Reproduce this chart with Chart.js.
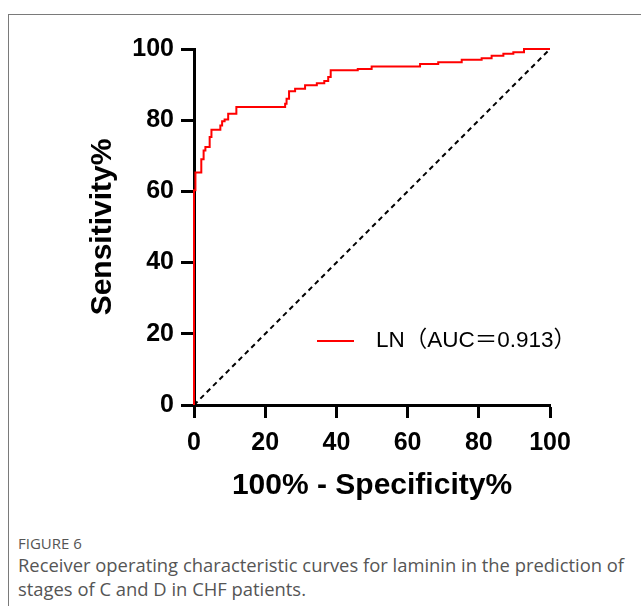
<!DOCTYPE html>
<html>
<head>
<meta charset="utf-8">
<script src="https://cdn.jsdelivr.net/npm/chart.js@4"></script>
<style>
  body { margin: 0; background: #fff; width: 641px; height: 606px; overflow: hidden; position: relative; }
  .frame { position: absolute; left: 8px; top: 14px; width: 700px; height: 700px; border-left: 1px solid #7a7a7a; border-top: 1px solid #7a7a7a; }
  #roc { position: absolute; left: 0; top: 0; }
  .fig { position: absolute; left: 18px; top: 533px; font-family: "Open Sans", sans-serif; font-size: 15px; color: #555; }
  .cap { position: absolute; left: 18px; top: 553px; width: 618px; font-family: "Open Sans", sans-serif; font-size: 18.4px; line-height: 24px; color: #555; }
</style>
</head>
<body>
<div class="frame"></div>
<canvas id="roc" width="641" height="520"></canvas>
<div class="fig">FIGURE 6</div>
<div class="cap">Receiver operating characteristic curves for laminin in the prediction of stages of C and D in CHF patients.</div>
<script>
// ROC points, 100% - specificity vs sensitivity
const fpr = [0, 0, 0.4, 2.05, 2.7, 3.2, 4.4, 4.9, 7.4, 7.9, 8.6, 9.6, 11.9, 25.6, 26.0, 26.7, 28.4, 31.2, 34.5, 36.6, 37.7, 38.4, 46.0, 49.9, 63.5, 68.6, 75.2, 80.8, 83.6, 86.9, 89.7, 92.7, 100];
const tpr = [0, 60.3, 65.3, 69.0, 71.5, 72.5, 75.3, 77.3, 78.5, 79.7, 80.2, 81.8, 83.7, 84.6, 86.0, 88.1, 88.8, 89.8, 90.4, 91.0, 92.1, 94.0, 94.4, 95.1, 95.8, 96.3, 97.0, 97.4, 98.1, 98.7, 99.1, 100, 100];
const refX = [0, 100];
const refY = [0, 100];
const seriesLabel = 'LN（AUC＝0.913）';
const axisTicks = [0, 20, 40, 60, 80, 100];

const tickFont = { family: '"Liberation Sans", Arial, sans-serif', size: 25, weight: 'bold' };
const titleFont = { family: '"Liberation Sans", Arial, sans-serif', size: 30, weight: 'bold' };

// legend drawn inside the plot area
const insideLegend = {
  id: 'insideLegend',
  afterDatasetsDraw(chart) {
    const { ctx, chartArea } = chart;
    const ds = chart.data.datasets[0];
    const y = chartArea.top + 292;
    ctx.save();
    ctx.strokeStyle = ds.borderColor;
    ctx.lineWidth = 2;
    ctx.beginPath();
    ctx.moveTo(chartArea.left + 123, y);
    ctx.lineTo(chartArea.left + 160, y);
    ctx.stroke();
    ctx.fillStyle = '#000';
    ctx.font = '22.5px "Liberation Sans", "Noto Sans CJK SC", sans-serif';
    ctx.textBaseline = 'middle';
    ctx.fillText(ds.label, chartArea.left + 182, y);
    ctx.restore();
  }
};

const axisBase = {
  type: 'linear',
  min: 0,
  max: 100,
  border: { display: true, color: '#000', width: 3 },
  grid: { drawOnChartArea: false, drawTicks: true, tickLength: 13, tickWidth: 3, tickColor: '#000' },
};

new Chart(document.getElementById('roc').getContext('2d'), {
  type: 'scatter',
  data: {
    datasets: [
      {
        label: seriesLabel,
        data: fpr.map((v, i) => ({ x: v, y: tpr[i] })),
        showLine: true,
        stepped: 'before',
        borderColor: '#ff0000',
        borderWidth: 2,
        pointRadius: 0,
        clip: false
      },
      {
        label: 'reference',
        data: refX.map((v, i) => ({ x: v, y: refY[i] })),
        showLine: true,
        borderColor: '#000',
        borderWidth: 2,
        borderDash: [5, 4],
        pointRadius: 0,
        clip: false
      }
    ]
  },
  options: {
    responsive: false,
    animation: false,
    devicePixelRatio: 1,
    layout: { padding: { left: 0, right: 91, top: 49, bottom: 0 } },
    plugins: { legend: { display: false }, tooltip: { enabled: false } },
    scales: {
      x: {
        ...axisBase,
        afterBuildTicks: s => { s.ticks = axisTicks.map(v => ({ value: v })); },
        afterFit: s => { s.height = 115; },
        ticks: { color: '#000', font: tickFont, padding: 10, maxRotation: 0 },
        title: { display: true, text: '100% - Specificity%', color: '#000', font: titleFont, padding: { top: 0, bottom: 16 } }
      },
      y: {
        ...axisBase,
        afterBuildTicks: s => { s.ticks = axisTicks.map(v => ({ value: v })); },
        afterFit: s => { s.width = 194; },
        ticks: { color: '#000', font: tickFont, padding: 7 },
        title: { display: true, text: 'Sensitivity%', color: '#000', font: titleFont, padding: { top: 85, bottom: 0 } }
      }
    }
  },
  plugins: [insideLegend]
});
</script>
</body>
</html>
